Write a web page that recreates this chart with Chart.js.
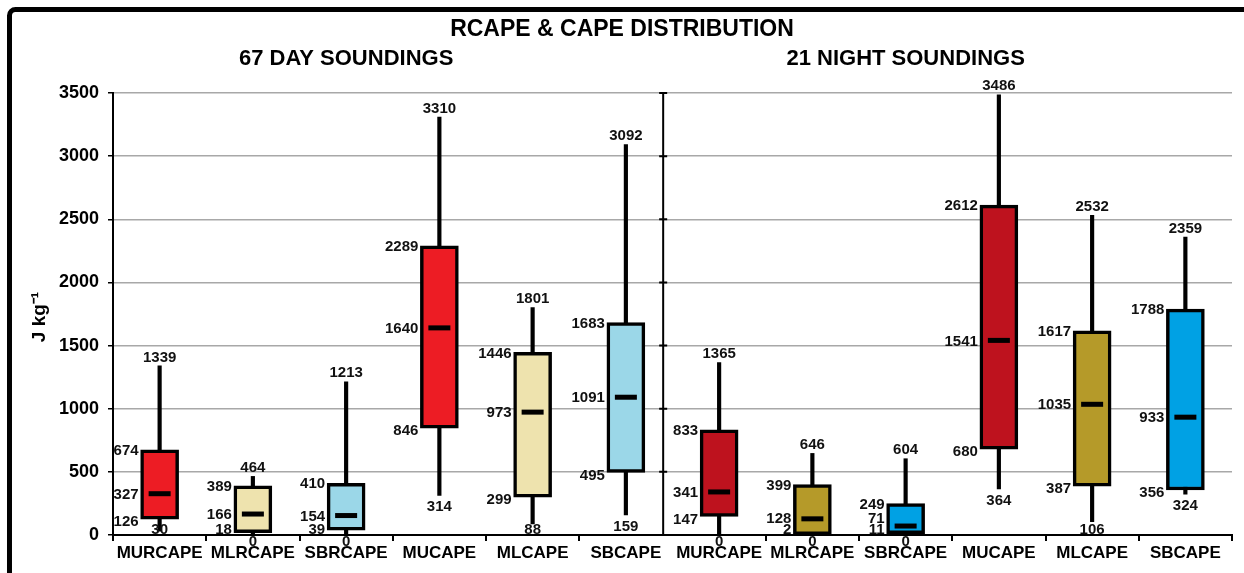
<!DOCTYPE html>
<html><head><meta charset="utf-8">
<script src="https://cdn.jsdelivr.net/npm/chart.js@4.4.1/dist/chart.umd.min.js"></script>
<style>html,body{margin:0;padding:0;background:#fff;overflow:hidden}canvas{display:block}</style>
</head><body>
<canvas id="c" width="1244" height="573"></canvas>
<script>
const categories = ['MURCAPE','MLRCAPE','SBRCAPE','MUCAPE','MLCAPE','SBCAPE','MURCAPE','MLRCAPE','SBRCAPE','MUCAPE','MLCAPE','SBCAPE'];
const minValues    = [30, 0, 0, 314, 88, 159,   0, 0, 0, 364, 106, 324];
const q1Values     = [126, 18, 39, 846, 299, 495,   147, 2, 11, 680, 387, 356];
const medianValues = [327, 166, 154, 1640, 973, 1091,   341, 128, 71, 1541, 1035, 933];
const q3Values     = [674, 389, 410, 2289, 1446, 1683,   833, 399, 249, 2612, 1617, 1788];
const maxValues    = [1339, 464, 1213, 3310, 1801, 3092,   1365, 646, 604, 3486, 2532, 2359];
const yTicks = [0, 500, 1000, 1500, 2000, 2500, 3000, 3500];
const boxColors = ['#ED1C24','#EEE3AE','#9BD7E8','#ED1C24','#EEE3AE','#9BD7E8',
                   '#BE121E','#B59A29','#00A1E4','#BE121E','#B59A29','#00A1E4'];
const mainTitle = 'RCAPE & CAPE DISTRIBUTION';
const groupTitles = ['67 DAY SOUNDINGS', '21 NIGHT SOUNDINGS'];
const groupTitleCategory = [2, 8];
const groupDivider = 5.4;
const yAxisTitle = 'J kg\u207B\u00B9';

Chart.defaults.font.family = '"Liberation Sans", Arial, sans-serif';
Chart.defaults.color = '#000';

const labelFont = 'bold 15px "Liberation Sans", Arial, sans-serif';

const boxPlugin = {
  id: 'boxPlugin',
  beforeDraw(chart) {
    const ctx = chart.ctx;
    ctx.save();
    ctx.fillStyle = '#fff';
    ctx.fillRect(0, 0, chart.width, chart.height);
    ctx.strokeStyle = '#000';
    ctx.lineWidth = 5;
    ctx.beginPath();
    ctx.roundRect(9.5, 9.5, chart.width + 40, chart.height + 40, 6);
    ctx.stroke();
    ctx.restore();
  },
  afterDatasetsDraw(chart) {
    const ctx = chart.ctx;
    const ys = chart.scales.y, xs = chart.scales.x;
    const area = chart.chartArea;
    const meta = chart.getDatasetMeta(0);
    ctx.save();
    const dx = xs.getPixelForValue(groupDivider);
    ctx.strokeStyle = '#000';
    ctx.lineWidth = 2;
    ctx.beginPath();
    ctx.moveTo(dx, area.top);
    ctx.lineTo(dx, area.bottom);
    yTicks.forEach(v => {
      const y = ys.getPixelForValue(v);
      ctx.moveTo(dx - 4, y);
      ctx.lineTo(dx + 4, y);
    });
    ctx.stroke();

    const axisY = ys.getPixelForValue(0);
    meta.data.forEach((el, i) => {
      const x = el.x;
      const half = el.width / 2;
      const my = ys.getPixelForValue(medianValues[i]);
      ctx.fillStyle = '#000';
      ctx.fillRect(x - 11, my - 2.5, 22, 5);
      ctx.font = labelFont;
      ctx.fillStyle = '#111';
      ctx.textAlign = 'center';
      ctx.textBaseline = 'bottom';
      ctx.fillText(String(maxValues[i]), x, ys.getPixelForValue(maxValues[i]) - 1);
      ctx.textAlign = 'right';
      ctx.textBaseline = 'middle';
      const lx = x - half - 2;
      const q1y = Math.min(ys.getPixelForValue(q1Values[i]) + 3, axisY - 5);
      ctx.fillText(String(q3Values[i]), lx, ys.getPixelForValue(q3Values[i]) + 1);
      ctx.fillText(String(medianValues[i]), lx, Math.min(my + 1, q1y - 11));
      ctx.fillText(String(q1Values[i]), lx, q1y);
      ctx.textAlign = 'center';
      ctx.textBaseline = 'middle';
      const by = ys.getPixelForValue(minValues[i]);
      const minY = minValues[i] === 0 ? axisY + 7 : Math.min(by + 12, axisY - 5);
      ctx.fillText(String(minValues[i]), x, minY);
    });
    ctx.restore();
  },
  afterDraw(chart) {
    const ctx = chart.ctx;
    const xs = chart.scales.x;
    const area = chart.chartArea;
    ctx.save();
    ctx.fillStyle = '#000';
    ctx.textAlign = 'center';
    ctx.textBaseline = 'middle';
    ctx.font = 'bold 23px "Liberation Sans", Arial, sans-serif';
    ctx.fillText(mainTitle, chart.width / 2, 30);
    ctx.font = 'bold 22px "Liberation Sans", Arial, sans-serif';
    groupTitles.forEach((t, k) => {
      ctx.fillText(t, xs.getPixelForValue(groupTitleCategory[k]), 59);
    });
    ctx.font = 'bold 19px "Liberation Sans", Arial, sans-serif';
    ctx.translate(40, (area.top + area.bottom) / 2 + 3);
    ctx.rotate(-Math.PI / 2);
    ctx.fillText(yAxisTitle, 0, 0);
    ctx.restore();
  }
};

new Chart(document.getElementById('c'), {
  type: 'bar',
  data: {
    labels: categories,
    datasets: [
      {
        label: 'box',
        data: categories.map((c, i) => [q1Values[i], q3Values[i]]),
        backgroundColor: boxColors,
        borderColor: '#000',
        borderWidth: 3.5,
        borderSkipped: false,
        barThickness: 38,
        grouped: false
      },
      {
        label: 'whisker',
        data: categories.map((c, i) => [minValues[i], maxValues[i]]),
        backgroundColor: '#000',
        borderWidth: 0,
        barThickness: 3.5,
        grouped: false
      }
    ]
  },
  options: {
    responsive: false,
    animation: false,
    devicePixelRatio: 1,
    layout: { padding: { top: 93, right: 12, left: 0, bottom: 0 } },
    plugins: { legend: { display: false }, tooltip: { enabled: false }, title: { display: false } },
    scales: {
      x: {
        afterFit: s => { s.height = 38; },
        border: { color: '#000', width: 2 },
        grid: {
          offset: true,
          drawOnChartArea: false,
          drawTicks: true,
          tickLength: 6,
          lineWidth: 2,
          color: ctx => ctx.index === 6 ? 'rgba(0,0,0,0)' : '#000'
        },
        ticks: { font: { size: 17, weight: 'bold' }, color: '#000', padding: 2, maxRotation: 0, autoSkip: false }
      },
      y: {
        min: 0,
        max: 3500,
        afterFit: s => { s.width = 113; },
        afterBuildTicks: s => { s.ticks = yTicks.map(v => ({ value: v })); },
        border: { color: '#000', width: 2 },
        grid: {
          color: ctx => (ctx.tick && ctx.tick.value === 0) ? 'rgba(0,0,0,0)' : '#A8A8A8',
          lineWidth: 1.5,
          tickColor: '#000',
          tickLength: 5
        },
        ticks: { font: { size: 18, weight: 'bold' }, color: '#000', padding: 9, callback: v => String(v) }
      }
    }
  },
  plugins: [boxPlugin]
});
</script>
</body></html>
